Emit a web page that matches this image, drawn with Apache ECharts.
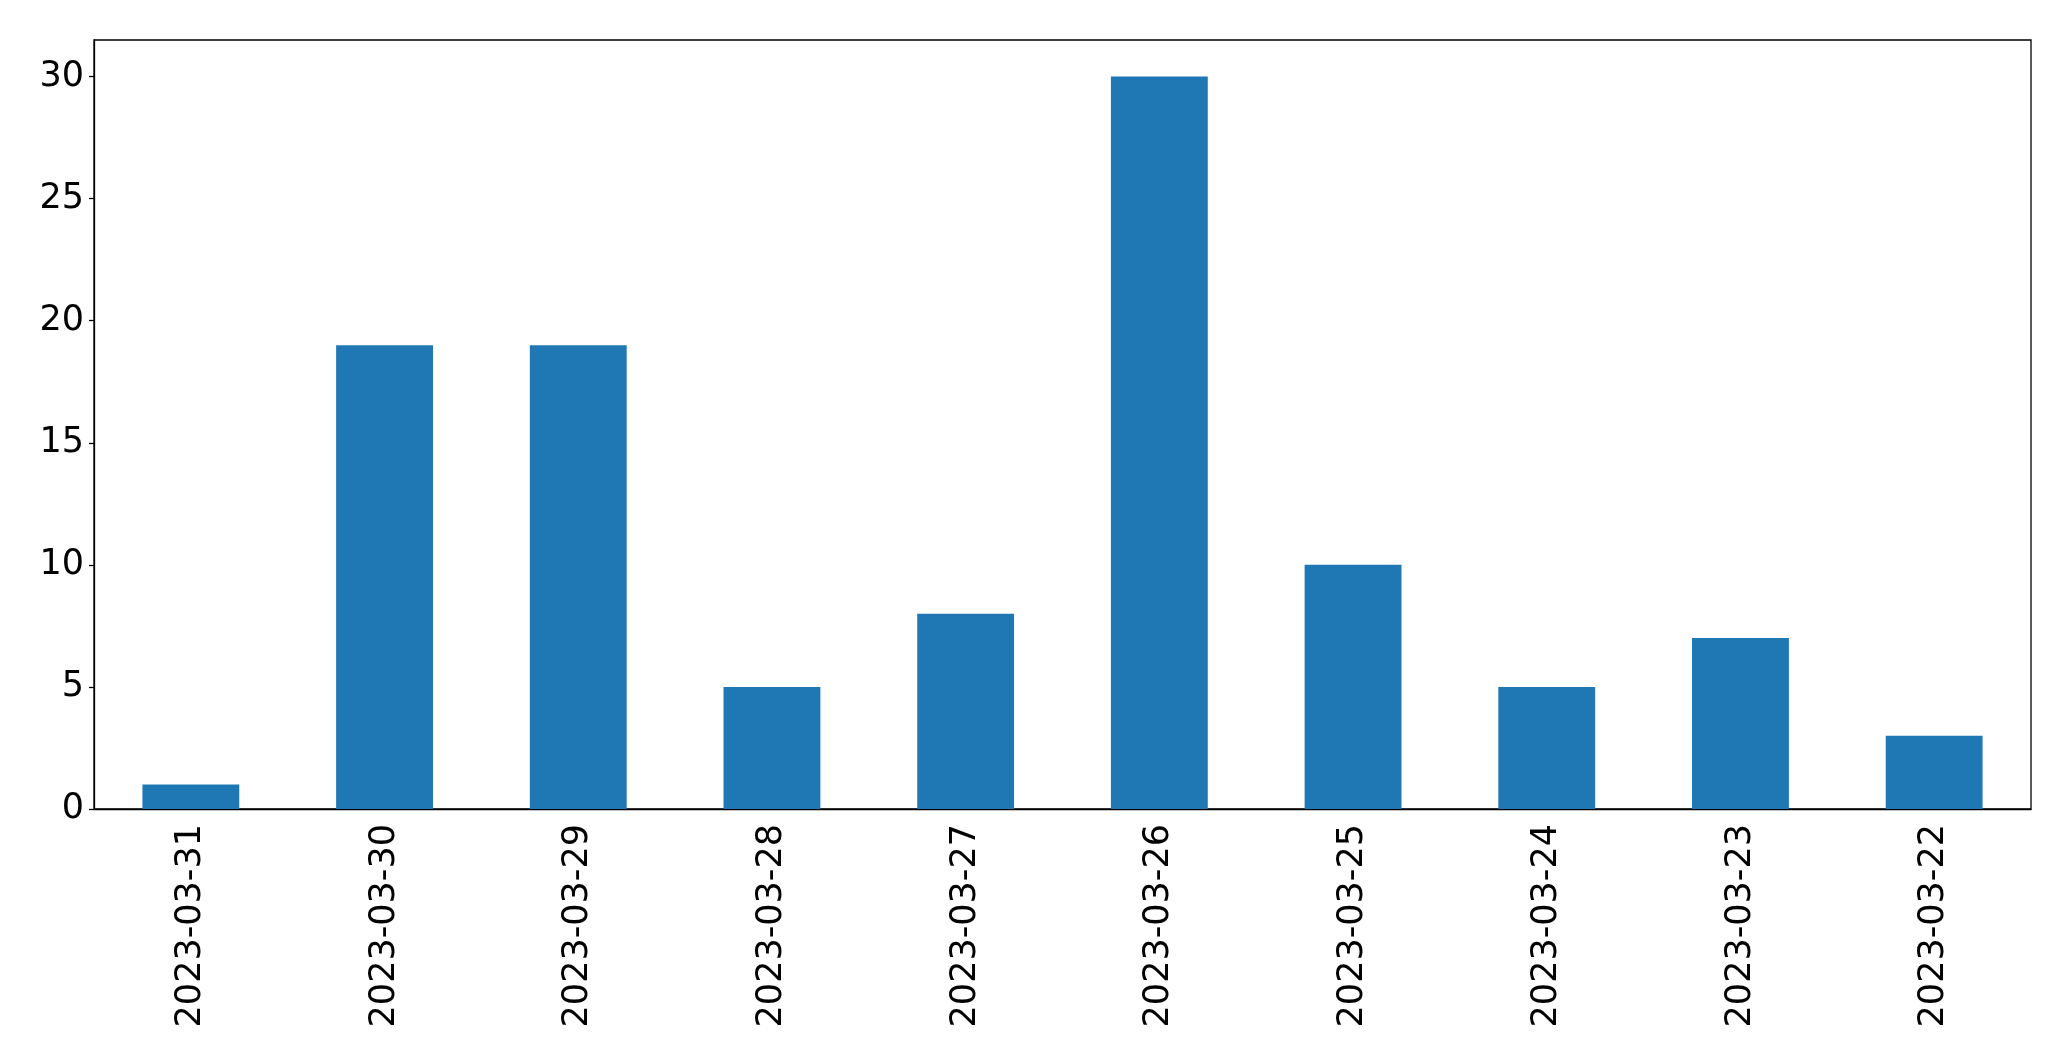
<!DOCTYPE html>
<html>
<head>
<meta charset="utf-8">
<script src="https://cdn.jsdelivr.net/npm/echarts@6/dist/echarts.min.js"></script>
<style>html,body{margin:0;padding:0;background:#fff;}#c{width:2071px;height:1061px;}</style>
</head>
<body>
<div id="c"></div>
<script>
const categories = ["2023-03-31","2023-03-30","2023-03-29","2023-03-28","2023-03-27","2023-03-26","2023-03-25","2023-03-24","2023-03-23","2023-03-22"];
const values = [1, 19, 19, 5, 8, 30, 10, 5, 7, 3];
const yTicks = [0, 5, 10, 15, 20, 25, 30];

const chart = echarts.init(document.getElementById('c'), null, {renderer: 'canvas'});
const font = 'DejaVu Sans';
chart.setOption({
  animation: false,
  backgroundColor: '#fff',
  grid: {left: 94, top: 40, right: 40, bottom: 252, show: true, borderColor: '#000', borderWidth: 1.3, containLabel: false},
  xAxis: {
    type: 'category',
    data: categories,
    boundaryGap: true,
    axisLine: {lineStyle: {color: '#000', width: 1.3}},
    axisTick: {alignWithLabel: true, length: 5, lineStyle: {color: '#000', width: 1.3}},
    axisLabel: {rotate: 90, color: '#000', fontFamily: font, fontSize: 35, margin: 15, interval: 0}
  },
  yAxis: {
    type: 'value',
    min: 0,
    max: 31.5,
    interval: 5,
    splitLine: {show: false},
    axisLine: {show: true, lineStyle: {color: '#000', width: 1.3}},
    axisTick: {show: true, length: 5, customValues: yTicks, lineStyle: {color: '#000', width: 1.3}},
    axisLabel: {color: '#000', fontFamily: font, fontSize: 35, margin: 10, customValues: yTicks}
  },
  series: [{
    type: 'bar',
    data: values,
    barWidth: '50%',
    itemStyle: {color: '#1f77b4'}
  }]
});
</script>
</body>
</html>
